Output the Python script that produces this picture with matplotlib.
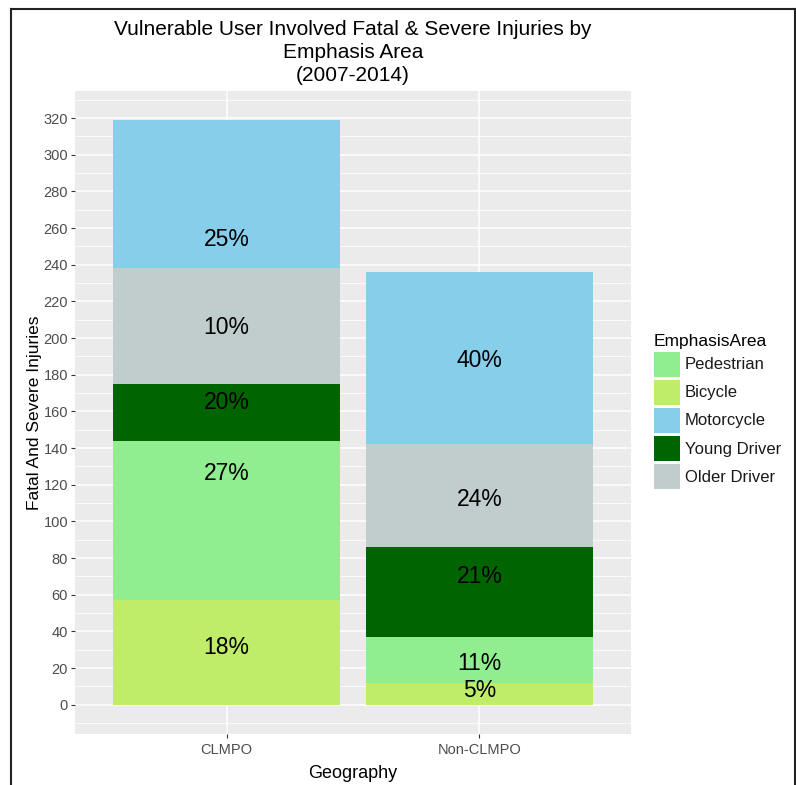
import matplotlib
matplotlib.use("Agg")
import matplotlib.pyplot as plt
from matplotlib.patches import Patch
from matplotlib.lines import Line2D
import numpy as np

plt.rcParams['font.family'] = ['Liberation Sans', 'DejaVu Sans']

# ---- data ----
geographies = ["CLMPO", "Non-CLMPO"]
stack_order = ["Bicycle", "Pedestrian", "Young Driver", "Older Driver", "Motorcycle"]
bicycle = [57, 12]
pedestrian = [87, 25]
young_driver = [31, 49]
older_driver = [63, 56]
motorcycle = [81, 94]
# percentage labels as shown, bottom to top in each bar
clmpo_labels = ["18%", "27%", "20%", "10%", "25%"]
nonclmpo_labels = ["5%", "11%", "21%", "24%", "40%"]
# label heights (data units) as positioned in the chart
clmpo_label_y = [31, 126, 165, 206, 254]
nonclmpo_label_y = [8, 22.5, 70, 112, 188]

legend_order = ["Pedestrian", "Bicycle", "Motorcycle", "Young Driver", "Older Driver"]
colors = {
    "Pedestrian": "#90EE90",
    "Bicycle": "#BFED6A",
    "Motorcycle": "#87CEEB",
    "Young Driver": "#006400",
    "Older Driver": "#C1CDCD",
}
series = {
    "Bicycle": bicycle,
    "Pedestrian": pedestrian,
    "Young Driver": young_driver,
    "Older Driver": older_driver,
    "Motorcycle": motorcycle,
}

W, H = 796, 785
fig = plt.figure(figsize=(W / 100, H / 100), dpi=100)
ax = fig.add_axes([75 / W, 1 - 734 / H, (631 - 75) / W, (734 - 90.7) / H])
ax.set_facecolor("#EBEBEB")

x = np.arange(1, len(geographies) + 1)
bottom = np.zeros(len(geographies))
for name in stack_order:
    vals = np.array(series[name], dtype=float)
    ax.bar(x, vals, width=0.9, bottom=bottom, color=colors[name], zorder=2, linewidth=0)
    bottom += vals

total_max = bottom.max()
ax.set_xlim(0.4, len(geographies) + 0.6)
pad = total_max * 0.05
ax.set_ylim(-pad, total_max + pad)

for lab, yy in zip(clmpo_labels, clmpo_label_y):
    ax.text(x[0], yy, lab, ha="center", va="center", fontsize=16.5, color="black", zorder=3)
for lab, yy in zip(nonclmpo_labels, nonclmpo_label_y):
    ax.text(x[1], yy, lab, ha="center", va="center", fontsize=16.5, color="black", zorder=3)

yticks = np.arange(0, 321, 20)
ax.set_yticks(yticks)
ax.set_yticks(np.arange(-10, 331, 10), minor=True)
ax.set_xticks(x)
ax.set_xticklabels(geographies)
ax.grid(which="major", color="white", linewidth=1.1, zorder=0)
ax.grid(which="minor", axis="y", color="white", linewidth=0.55, zorder=0)
ax.set_axisbelow(True)
for s in ax.spines.values():
    s.set_visible(False)
ax.tick_params(axis="both", which="major", length=3, width=0.8, color="#333333",
               labelcolor="#4D4D4D", labelsize=10.5, pad=2)
ax.tick_params(axis="x", which="major", pad=3.5)
ax.tick_params(axis="both", which="minor", length=0)

ax.set_xlabel("Geography", fontsize=13, labelpad=6)
ax.set_ylabel("Fatal And Severe Injuries", fontsize=12.5, labelpad=1)
ax.set_title("Vulnerable User Involved Fatal & Severe Injuries by\nEmphasis Area\n(2007-2014)",
             fontsize=15, linespacing=1.25, pad=7)

handles = [Patch(facecolor=colors[n], edgecolor="none") for n in legend_order]
leg = fig.legend(handles, legend_order, title="EmphasisArea", loc="upper left",
                 bbox_to_anchor=(642 / W, 1 - 322 / H), frameon=False,
                 fontsize=12, title_fontsize=12.5, handlelength=1.56, handleheight=1.95,
                 labelspacing=0.17, handletextpad=0.3, borderpad=0.2)
leg._legend_box.align = "left"
for t in leg.get_texts():
    t.set_color("#1a1a1a")

# outer frame
fig.add_artist(Line2D([11 / W, 11 / W], [0, 1 - 9 / H], transform=fig.transFigure,
                      color="#222222", linewidth=1.5))
fig.add_artist(Line2D([11 / W, 795 / W], [1 - 9 / H, 1 - 9 / H], transform=fig.transFigure,
                      color="#222222", linewidth=1.5))
fig.add_artist(Line2D([795 / W, 795 / W], [0, 1 - 9 / H], transform=fig.transFigure,
                      color="#222222", linewidth=1.5))

fig.savefig("out.png", dpi=100)
